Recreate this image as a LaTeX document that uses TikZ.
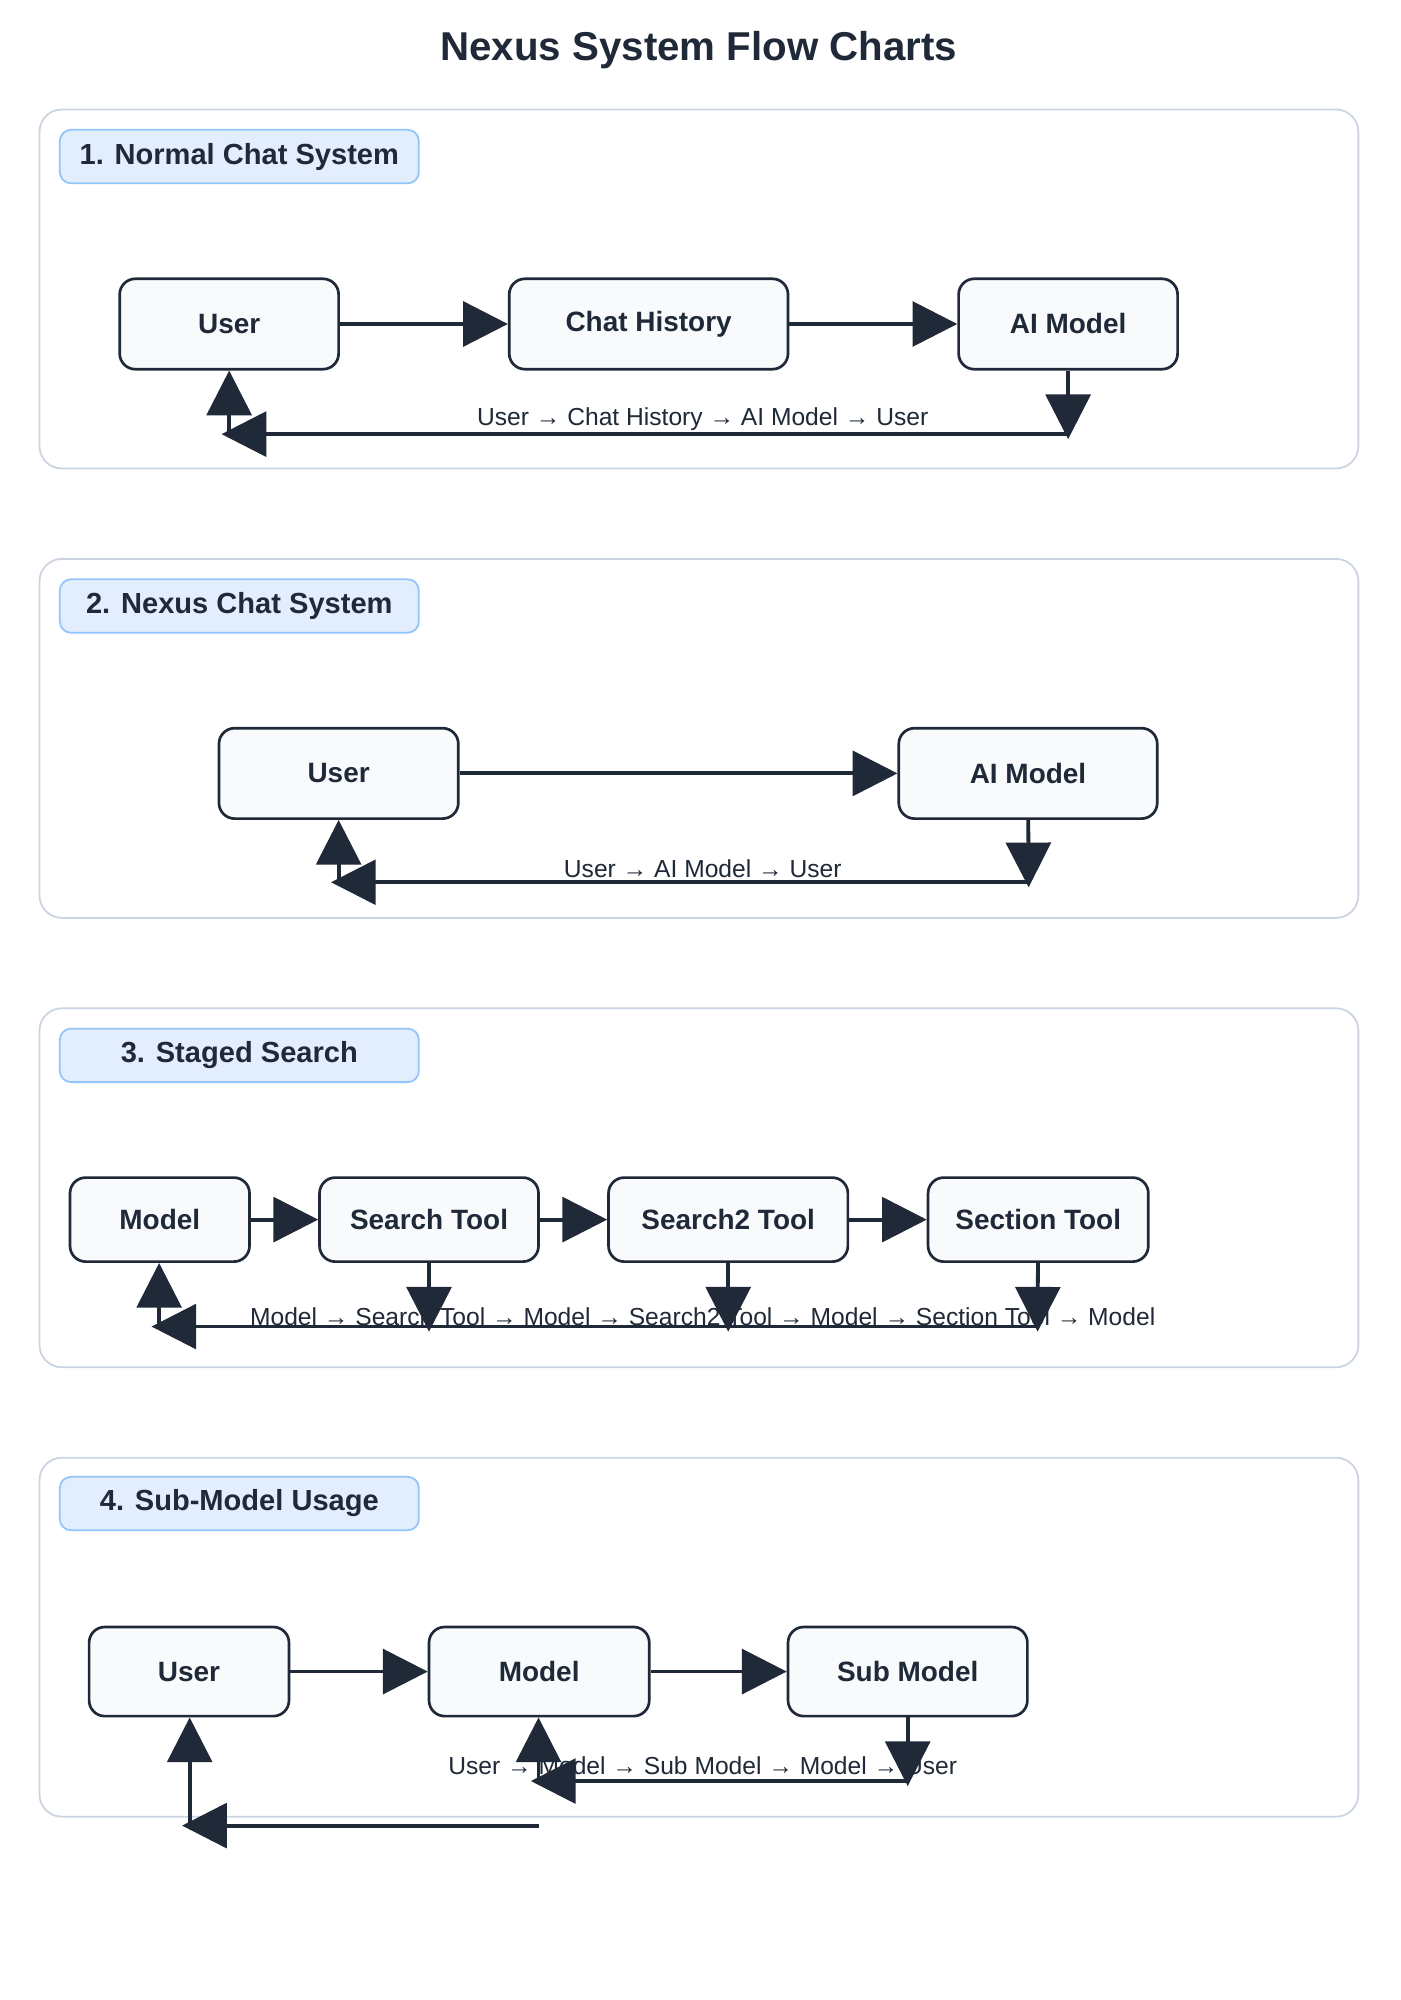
\documentclass[tikz,border=0pt]{standalone}
\usepackage{fontspec}
\setmainfont{Liberation Sans}
\usetikzlibrary{arrows.meta}
\definecolor{ink}{HTML}{1F2937}
\definecolor{nfill}{HTML}{F8FAFC}
\definecolor{bfill}{HTML}{E3EEFD}
\definecolor{bline}{HTML}{93C5FD}
\definecolor{fline}{HTML}{CBD5E1}
\begin{document}
\begin{tikzpicture}[x=0.02cm,y=-0.02cm,
  frame/.style={draw=fline,line width=0.8pt,rounded corners=10pt,fill=white},
  badge/.style={draw=bline,line width=0.8pt,fill=bfill,rounded corners=5pt,inner sep=0pt,font=\fontsize{13}{15}\selectfont\bfseries,text=ink},
  box/.style={draw=ink,line width=1.2pt,fill=nfill,rounded corners=7pt,inner sep=0pt,font=\fontsize{12.5}{15}\selectfont\bfseries,text=ink},
  arr/.style={draw=ink,line width=1.7pt,-{Triangle[length=20pt,width=20pt]}},
  lab/.style={font=\fontsize{11}{13}\selectfont,text=ink,inner sep=0pt}]
\useasboundingbox (0,0) rectangle (1100,1571);
\node[font=\fontsize{18}{22}\selectfont\bfseries,text=ink] (title) at (549,39) {Nexus System Flow Charts};
% helper macro for boxes
\newcommand{\mybox}[5]{\node[#1,minimum width={(#4-#2)*0.02cm},minimum height={(#5-#3)*0.02cm}] at ({(#2+#4)/2},{(#3+#5)/2})}
% Section 1
\path[frame] (31,86) rectangle (1067,368);
\mybox{badge}{47}{102}{329}{144} (b1) {1. Normal Chat System};
\mybox{box}{94}{219}{266}{290} (u1) {User};
\mybox{box}{400}{219}{619}{290} (c1) {Chat History};
\mybox{box}{753}{219}{925}{290} (a1) {AI Model};
\node[lab] (l1) at (552,329) {User → Chat History → AI Model → User};
\coordinate (p1) at (839,345);
\coordinate (q1) at (174,341);
\coordinate (r1) at (180,341);
\draw[arr] (u1) -- (c1);
\draw[arr] (c1) -- (a1);
\draw[arr] (a1) -- (p1);
\draw[arr] (p1|-q1) -- (q1);
\draw[arr] (r1) -- (u1.south-|r1);
% Section 2
\path[frame] (31,439) rectangle (1067,721);
\mybox{badge}{47}{455}{329}{497} (b2) {2. Nexus Chat System};
\mybox{box}{172}{572}{360}{643} (u2) {User};
\mybox{box}{706}{572}{909}{643} (a2) {AI Model};
\node[lab] (l2) at (552,682) {User → AI Model → User};
\coordinate (p2) at (808,697);
\coordinate (q2) at (260,693);
\coordinate (r2) at (266,693);
\draw[arr] (u2) -- (a2);
\draw[arr] (a2) -- (p2);
\draw[arr] (p2|-q2) -- (q2);
\draw[arr] (r2) -- (u2.south-|r2);
% Section 3
\path[frame] (31,792) rectangle (1067,1074);
\mybox{badge}{47}{808}{329}{850} (b3) {3. Staged Search};
\mybox{box}{55}{925}{196}{991} (m3) {Model};
\mybox{box}{251}{925}{423}{991} (s3) {Search Tool};
\mybox{box}{478}{925}{666}{991} (t3) {Search2 Tool};
\mybox{box}{729}{925}{902}{991} (x3) {Section Tool};
\node[lab] (l3) at (552,1034) {Model → Search Tool → Model → Search2 Tool → Model → Section Tool → Model};
\coordinate (ps) at (337,1046);
\coordinate (pt) at (572,1046);
\coordinate (px) at (815,1046);
\coordinate (q3) at (119,1042);
\coordinate (r3) at (125,1042);
\draw[arr] (m3) -- (s3);
\draw[arr] (s3) -- (t3);
\draw[arr] (t3) -- (x3);
\draw[arr] (s3) -- (ps);
\draw[arr] (t3) -- (pt);
\draw[arr] (x3) -- (px);
\draw[arr] (px|-q3) -- (q3);
\draw[arr] (r3) -- (m3.south-|r3);
% Section 4
\path[frame] (31,1145) rectangle (1067,1427);
\mybox{badge}{47}{1160}{329}{1202} (b4) {4. Sub-Model Usage};
\mybox{box}{70}{1278}{227}{1348} (u4) {User};
\mybox{box}{337}{1278}{510}{1348} (m4) {Model};
\mybox{box}{619}{1278}{807}{1348} (s4) {Sub Model};
\node[lab] (l4) at (552,1387) {User → Model → Sub Model → Model → User};
\coordinate (p4) at (713,1403);
\coordinate (q4) at (417,1399);
\coordinate (r4) at (423,1399);
\coordinate (v4) at (423,1434);
\coordinate (w4) at (143,1434);
\coordinate (z4) at (149,1434);
\draw[arr] (u4) -- (m4);
\draw[arr] (m4) -- (s4);
\draw[arr] (s4) -- (p4);
\draw[arr] (p4|-q4) -- (q4);
\draw[arr] (r4) -- (m4.south-|r4);
\draw[arr] (v4) -- (w4);
\draw[arr] (z4) -- (u4.south-|z4);
\end{tikzpicture}
\end{document}
